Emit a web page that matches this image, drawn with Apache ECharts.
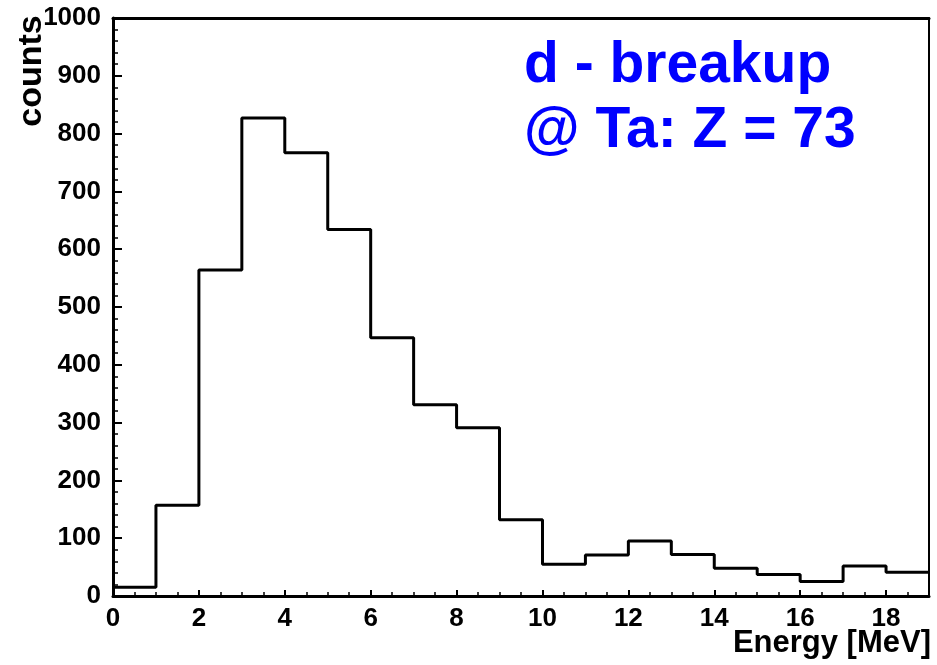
<!DOCTYPE html>
<html>
<head>
<meta charset="utf-8">
<script src="https://cdn.jsdelivr.net/npm/echarts@6/dist/echarts.min.js"></script>
<style>
html,body{margin:0;padding:0;background:#fff;}
#c{width:937px;height:665px;}
</style>
</head>
<body>
<div id="c"></div>
<script>
// Histogram bin lower edges (MeV), bin width 1
const binEdges = [0,1,2,3,4,5,6,7,8,9,10,11,12,13,14,15,16,17,18];
const counts = [15,157,564,827,767,634,447,331,291,132,55,71,95,72,48,37,25,52,41];
const xMax = 19;
const yTicks = [0,100,200,300,400,500,600,700,800,900,1000];
const xTicks = [0,2,4,6,8,10,12,14,16,18];
const titleLines = ['d - breakup', '@ Ta: Z = 73'];
const xTitle = 'Energy [MeV]';
const yTitle = 'counts';

const stepData = binEdges.map((e,i)=>[e, counts[i]]);
stepData.push([xMax, counts[counts.length-1]]);

const FONT = '"Liberation Sans", Arial, sans-serif';
const chart = echarts.init(document.getElementById('c'), null, {renderer:'canvas'});
chart.setOption({
  animation:false,
  backgroundColor:'#ffffff',
  grid:{left:113, right:8, top:18, bottom:69, show:false},
  xAxis:[{
    type:'value', min:0, max:xMax, interval:2,
    axisLine:{show:true, onZero:false, lineStyle:{color:'#000', width:3}},
    axisTick:{show:true, inside:true, length:6, lineStyle:{color:'#000', width:2}},
    minorTick:{show:true, splitNumber:4, length:4, lineStyle:{color:'#000', width:1.5}},
    splitLine:{show:false},
    axisLabel:{show:true, margin:10, color:'#000', fontFamily:FONT, fontWeight:'bold', fontSize:26,
      showMaxLabel:false,
      formatter:function(v){ return xTicks.indexOf(v)>=0 ? String(v) : ''; }}
  },{
    type:'value', min:0, max:xMax, position:'top',
    axisLine:{show:true, onZero:false, lineStyle:{color:'#000', width:3}},
    axisTick:{show:false}, axisLabel:{show:false}, splitLine:{show:false}
  }],
  yAxis:[{
    type:'value', min:0, max:1000, interval:100,
    axisLine:{show:true, onZero:false, lineStyle:{color:'#000', width:3}},
    axisTick:{show:true, inside:true, length:9, lineStyle:{color:'#000', width:2}},
    minorTick:{show:true, splitNumber:5, length:5, lineStyle:{color:'#000', width:1.5}},
    splitLine:{show:false},
    axisLabel:{show:true, margin:12, color:'#000', fontFamily:FONT, fontWeight:'bold', fontSize:26,
      formatter:function(v){ return yTicks.indexOf(v)>=0 ? String(v) : ''; }}
  },{
    type:'value', min:0, max:1000, position:'right',
    axisLine:{show:true, onZero:false, lineStyle:{color:'#000', width:2}},
    axisTick:{show:false}, axisLabel:{show:false}, splitLine:{show:false}
  }],
  series:[{
    type:'line', step:'end', data:stepData, showSymbol:false, symbol:'none',
    lineStyle:{color:'#000', width:3}, clip:true
  }],
  graphic:[
    {type:'text', left:524, top:38, style:{text:titleLines[0], fill:'#0000ff', font:'bold 57px '+FONT}},
    {type:'text', left:524, top:103, style:{text:titleLines[1], fill:'#0000ff', font:'bold 57px '+FONT}},
    {type:'text', right:6, top:628, style:{text:xTitle, fill:'#000', font:'bold 31px '+FONT}},
    {type:'text', x:32, y:71, rotation:Math.PI/2, style:{text:yTitle, fill:'#000', font:'bold 34px '+FONT, align:'center', verticalAlign:'middle'}}
  ]
});
</script>
</body>
</html>
